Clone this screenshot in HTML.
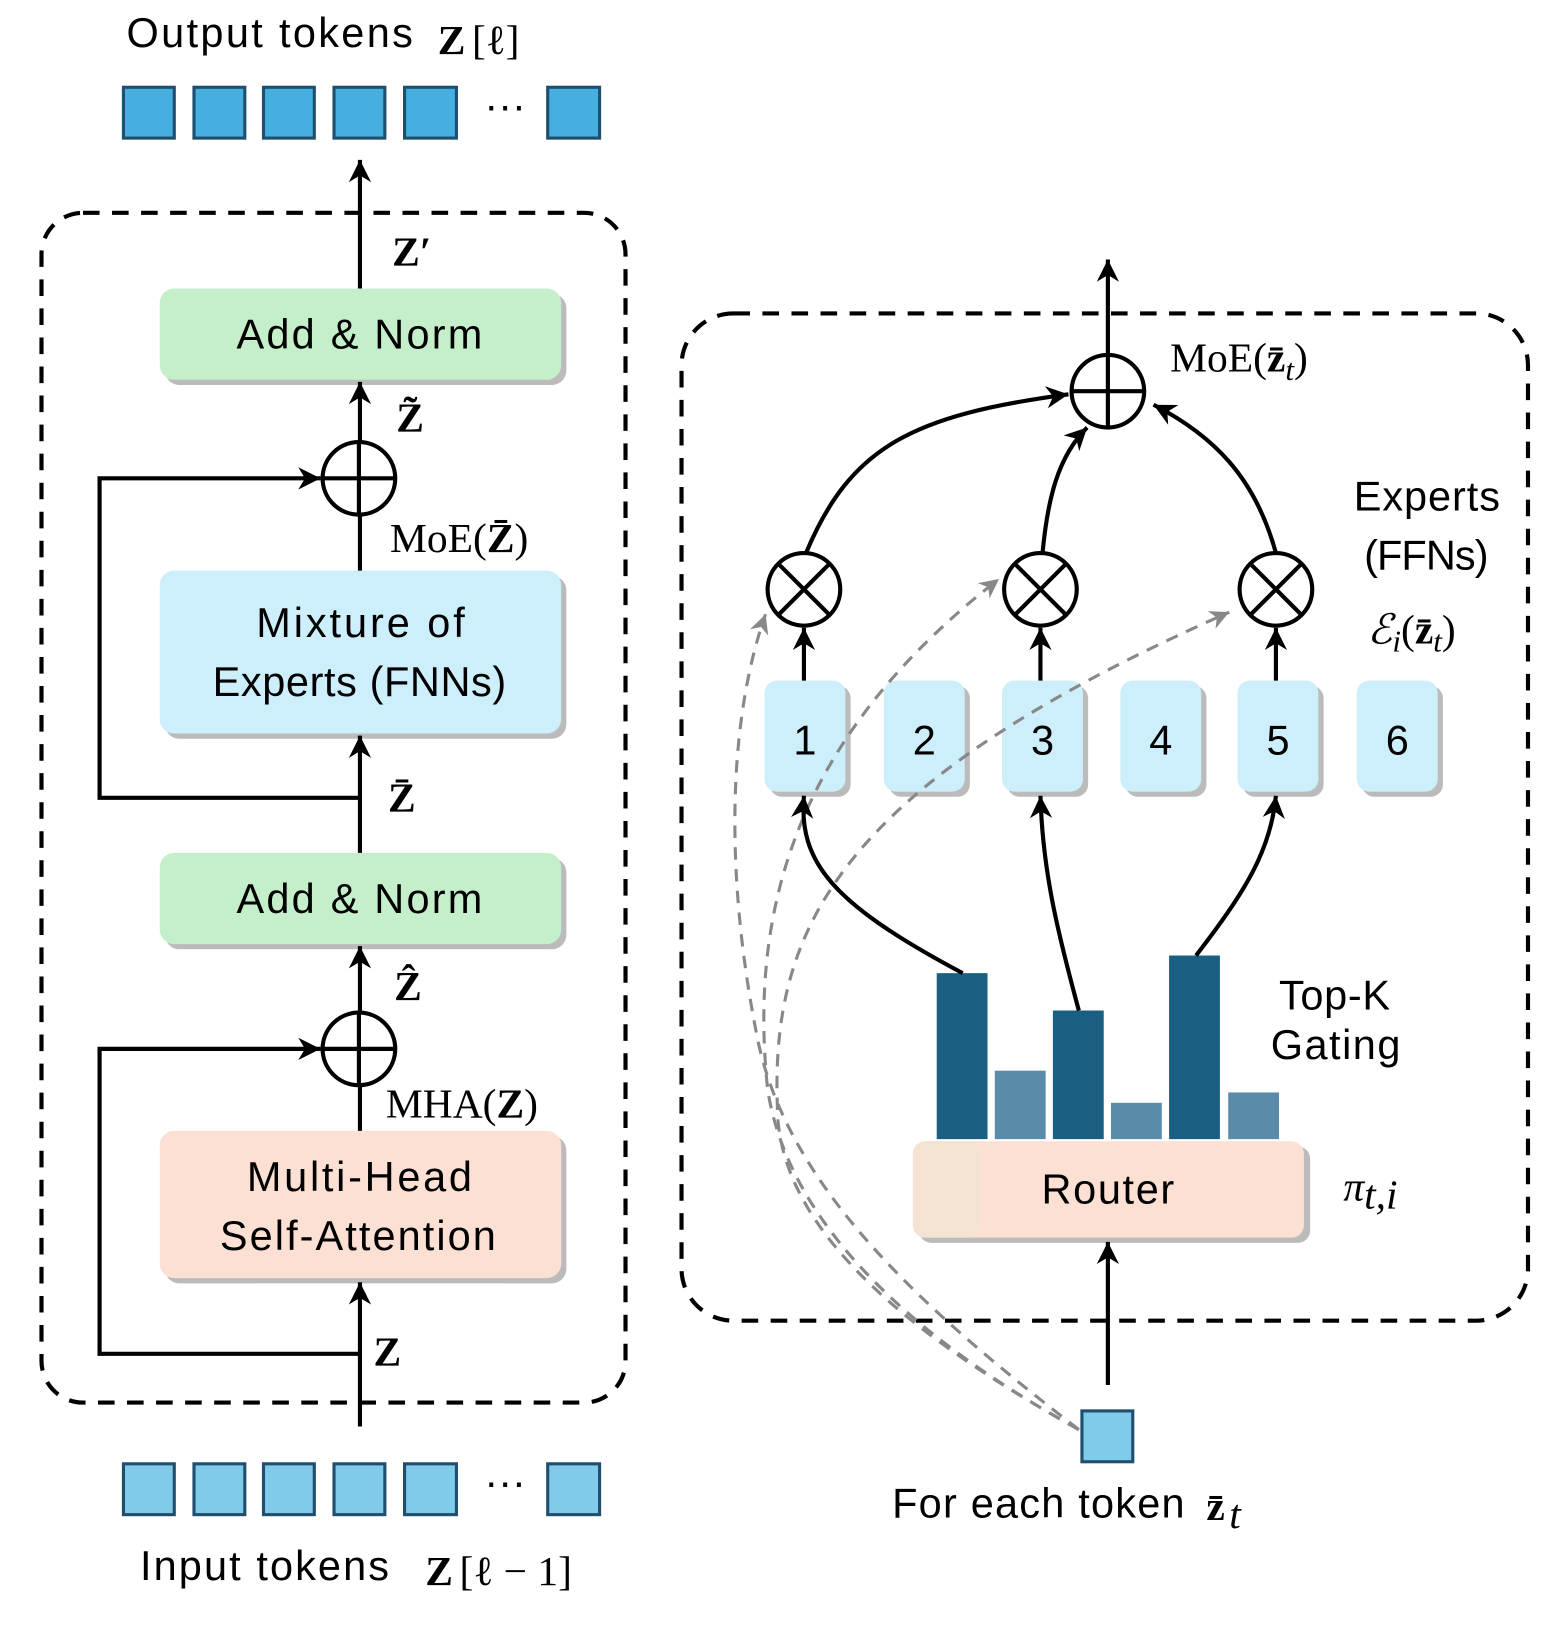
<!DOCTYPE html>
<html><head><meta charset="utf-8"><style>html,body{margin:0;padding:0;background:#fff}svg{display:block}
.s{font-family:"Liberation Sans",sans-serif;font-size:40px;fill:#000}
.m{font-family:"Liberation Serif",serif;font-size:40px;fill:#000}
</style></head><body>
<svg width="1556" height="1632" viewBox="0 0 1500 1573" xmlns="http://www.w3.org/2000/svg">
<defs>
<marker id="b" viewBox="-2 -2 14 14" refX="10" refY="5" markerWidth="30" markerHeight="30" orient="auto" markerUnits="userSpaceOnUse"><path d="M0,0 L10,5 L0,10 L3,5 z" fill="#000"/></marker>
<marker id="g" viewBox="-2 -2 14 14" refX="10" refY="5" markerWidth="26" markerHeight="26" orient="auto" markerUnits="userSpaceOnUse"><path d="M0,0 L10,5 L0,10 L3,5 z" fill="#888"/></marker>
</defs>
<rect x="40" y="205" width="563" height="1147" rx="40" fill="none" stroke="#000" stroke-width="4" stroke-dasharray="16,12"/>
<text class="s" x="122" y="45" textLength="276">Output tokens</text><text class="m" x="422" y="52" font-weight="bold">Z</text><text class="m" x="455" y="52">[ℓ]</text>
<g fill="#45b0e0" stroke="#1f4e6e" stroke-width="3">
<rect x="119" y="84" width="49" height="49"/><rect x="187" y="84" width="49" height="49"/><rect x="254" y="84" width="49" height="49"/><rect x="322" y="84" width="49" height="49"/><rect x="390" y="84" width="50" height="49"/><rect x="528" y="84" width="50" height="49"/></g>
<text class="s" x="467" y="115">···</text>
<g fill="#80cbe9" stroke="#1f4e6e" stroke-width="3">
<rect x="119" y="1411" width="49" height="49"/><rect x="187" y="1411" width="49" height="49"/><rect x="254" y="1411" width="49" height="49"/><rect x="322" y="1411" width="49" height="49"/><rect x="390" y="1411" width="50" height="49"/><rect x="528" y="1411" width="50" height="49"/></g>
<text class="s" x="467" y="1442">···</text>
<text class="s" x="135" y="1523" textLength="240">Input tokens</text><text class="m" x="410" y="1528" font-weight="bold">Z</text><text class="m" x="443" y="1528">[ℓ − 1]</text>
<g>
<rect x="159" y="1095" width="387" height="142" rx="14" fill="#bbb"/><rect x="154" y="1090" width="387" height="142" rx="14" fill="#fbe0d3"/>
<rect x="159" y="827" width="387" height="88" rx="14" fill="#bbb"/><rect x="154" y="822" width="387" height="88" rx="14" fill="#c5efcb"/>
<rect x="159" y="555" width="387" height="157" rx="14" fill="#bbb"/><rect x="154" y="550" width="387" height="157" rx="14" fill="#cdeefb"/>
<rect x="159" y="283" width="387" height="88" rx="14" fill="#bbb"/><rect x="154" y="278" width="387" height="88" rx="14" fill="#c5efcb"/>
</g>
<text class="s" x="238" y="1148" textLength="217">Multi-Head</text><text class="s" x="212" y="1205" textLength="266">Self-Attention</text>
<text class="s" x="228" y="880" textLength="237">Add &amp; Norm</text>
<text class="s" x="247" y="614" textLength="201">Mixture of</text><text class="s" x="205" y="671" textLength="283">Experts (FNNs)</text>
<text class="s" x="228" y="336" textLength="237">Add &amp; Norm</text>
<g stroke="#000" stroke-width="4" fill="none">
<line x1="347" y1="1375" x2="347" y2="1236" marker-end="url(#b)"/>
<line x1="347" y1="1090" x2="347" y2="1046"/>
<line x1="347" y1="976" x2="347" y2="912" marker-end="url(#b)"/>
<line x1="347" y1="822" x2="347" y2="709" marker-end="url(#b)"/>
<line x1="347" y1="550" x2="347" y2="496"/>
<line x1="347" y1="426" x2="347" y2="368" marker-end="url(#b)"/>
<line x1="347" y1="278" x2="347" y2="154" marker-end="url(#b)"/>
<polyline points="347,1305 96,1305 96,1011 309,1011" marker-end="url(#b)"/>
<polyline points="347,769 96,769 96,461 309,461" marker-end="url(#b)"/>
<circle cx="346" cy="1011" r="35"/><line x1="311" y1="1011" x2="381" y2="1011"/><line x1="346" y1="976" x2="346" y2="1046"/>
<circle cx="346" cy="461" r="35"/><line x1="311" y1="461" x2="381" y2="461"/><line x1="346" y1="426" x2="346" y2="496"/>
</g>
<text class="m" x="378" y="256" font-weight="bold">Z′</text>
<text class="m" x="382" y="416" font-weight="bold">Z̃</text>
<text class="m" x="376" y="532" font-size="38">MoE(<tspan font-weight="bold">Z̄</tspan>)</text>
<text class="m" x="372" y="1077" font-size="38">MHA(<tspan font-weight="bold">Z</tspan>)</text>
<text class="m" x="374" y="782" font-weight="bold">Z̄</text>
<text class="m" x="380" y="964" font-weight="bold">Ẑ</text>
<text class="m" x="360" y="1316" font-weight="bold">Z</text>
<rect x="657" y="302" width="816" height="971" rx="50" fill="none" stroke="#000" stroke-width="4" stroke-dasharray="16,12"/>
<g>
<rect x="886" y="1105" width="377" height="93" rx="12" fill="#bbb"/><rect x="880" y="1100" width="377" height="93" rx="12" fill="#fbe0d3"/>
<rect x="880" y="1100" width="64" height="93" rx="12" fill="#f4e3d3"/>
</g>
<text class="s" x="1004" y="1160" textLength="128">Router</text>
<g fill="#1a5e82"><rect x="903" y="938" width="49" height="160"/><rect x="1015" y="974" width="49" height="124"/><rect x="1127" y="921" width="49" height="177"/></g>
<g fill="#5a8ca9"><rect x="959" y="1032" width="49" height="66"/><rect x="1071" y="1063" width="49" height="35"/><rect x="1184" y="1053" width="49" height="45"/></g>
<g>
<rect x="742" y="661" width="78" height="107" rx="12" fill="#bbb"/><rect x="737" y="656" width="78" height="107" rx="12" fill="#cdeefb"/>
<rect x="857" y="661" width="78" height="107" rx="12" fill="#bbb"/><rect x="852" y="656" width="78" height="107" rx="12" fill="#cdeefb"/>
<rect x="971" y="661" width="78" height="107" rx="12" fill="#bbb"/><rect x="966" y="656" width="78" height="107" rx="12" fill="#cdeefb"/>
<rect x="1085" y="661" width="78" height="107" rx="12" fill="#bbb"/><rect x="1080" y="656" width="78" height="107" rx="12" fill="#cdeefb"/>
<rect x="1198" y="661" width="78" height="107" rx="12" fill="#bbb"/><rect x="1193" y="656" width="78" height="107" rx="12" fill="#cdeefb"/>
<rect x="1313" y="661" width="78" height="107" rx="12" fill="#bbb"/><rect x="1308" y="656" width="78" height="107" rx="12" fill="#cdeefb"/>
</g>
<g class="s" text-anchor="middle" font-size="46"><text x="776" y="727">1</text><text x="891" y="727">2</text><text x="1005" y="727">3</text><text x="1119" y="727">4</text><text x="1232" y="727">5</text><text x="1347" y="727">6</text></g>
<g stroke="#888" stroke-width="3" fill="none" stroke-dasharray="12,9">
<path d="M1040,1378 C900,1270 760,1150 730,1000 C700,850 700,700 738,592" marker-end="url(#g)"/>
<path d="M1040,1378 C880,1290 760,1180 740,1050 C720,860 780,700 963,558" marker-end="url(#g)"/>
<path d="M1040,1378 C900,1300 760,1200 750,1080 C740,900 800,760 1185,590" marker-end="url(#g)"/>
</g>
<rect x="1043" y="1360" width="49" height="49" fill="#80cbe9" stroke="#1f4e6e" stroke-width="3"/>
<g stroke="#000" stroke-width="4" fill="none">
<line x1="1068" y1="1335" x2="1068" y2="1197" marker-end="url(#b)"/>
<path d="M928,938 C800,870 770,830 775,767" marker-end="url(#b)"/>
<path d="M1040,974 C1020,900 1005,840 1003,767" marker-end="url(#b)"/>
<path d="M1153,921 C1200,860 1225,820 1230,767" marker-end="url(#b)"/>
<line x1="775" y1="656" x2="775" y2="605" marker-end="url(#b)"/>
<line x1="1003" y1="656" x2="1003" y2="605" marker-end="url(#b)"/>
<line x1="1230" y1="656" x2="1230" y2="605" marker-end="url(#b)"/>
<path d="M777,533 C820,430 880,400 1030,380" marker-end="url(#b)"/>
<path d="M1005,533 C1010,480 1020,440 1048,412" marker-end="url(#b)"/>
<path d="M1230,533 C1210,460 1170,420 1112,390" marker-end="url(#b)"/>
<line x1="1068" y1="342" x2="1068" y2="250" marker-end="url(#b)"/>
<circle cx="1068" cy="377" r="35"/><line x1="1033" y1="377" x2="1103" y2="377"/><line x1="1068" y1="342" x2="1068" y2="412"/>
<g><circle cx="775" cy="568" r="35"/><line x1="750" y1="543" x2="800" y2="593"/><line x1="800" y1="543" x2="750" y2="593"/></g>
<g><circle cx="1003" cy="568" r="35"/><line x1="978" y1="543" x2="1028" y2="593"/><line x1="1028" y1="543" x2="978" y2="593"/></g>
<g><circle cx="1230" cy="568" r="35"/><line x1="1205" y1="543" x2="1255" y2="593"/><line x1="1255" y1="543" x2="1205" y2="593"/></g>
</g>
<text class="m" x="1128" y="358">MoE(<tspan font-weight="bold">z̄</tspan><tspan font-style="italic" font-size="30" dy="8">t</tspan><tspan dy="-8">)</tspan></text>
<text class="s" x="1305" y="492" textLength="141">Experts</text><text class="s" x="1315" y="549" textLength="120">(FFNs)</text>
<text class="m" x="1318" y="620" font-style="italic">ℰ<tspan font-size="30" dy="8">i</tspan><tspan dy="-8" font-style="normal">(</tspan><tspan font-weight="bold" font-style="normal">z̄</tspan><tspan font-size="30" dy="8">t</tspan><tspan dy="-8" font-style="normal">)</tspan></text>
<text class="s" x="1233" y="973" textLength="107">Top-K</text><text class="s" x="1225" y="1021" textLength="125">Gating</text>
<text class="m" x="1295" y="1157" font-style="italic" font-size="48">π<tspan font-size="40" dy="8">t,i</tspan></text>
<text class="s" x="860" y="1463" textLength="282">For each token</text><text class="m" x="1163" y="1465" font-weight="bold">z̄</text><text class="m" x="1185" y="1473" font-style="italic" font-size="32">t</text>
</svg>
</body></html>
